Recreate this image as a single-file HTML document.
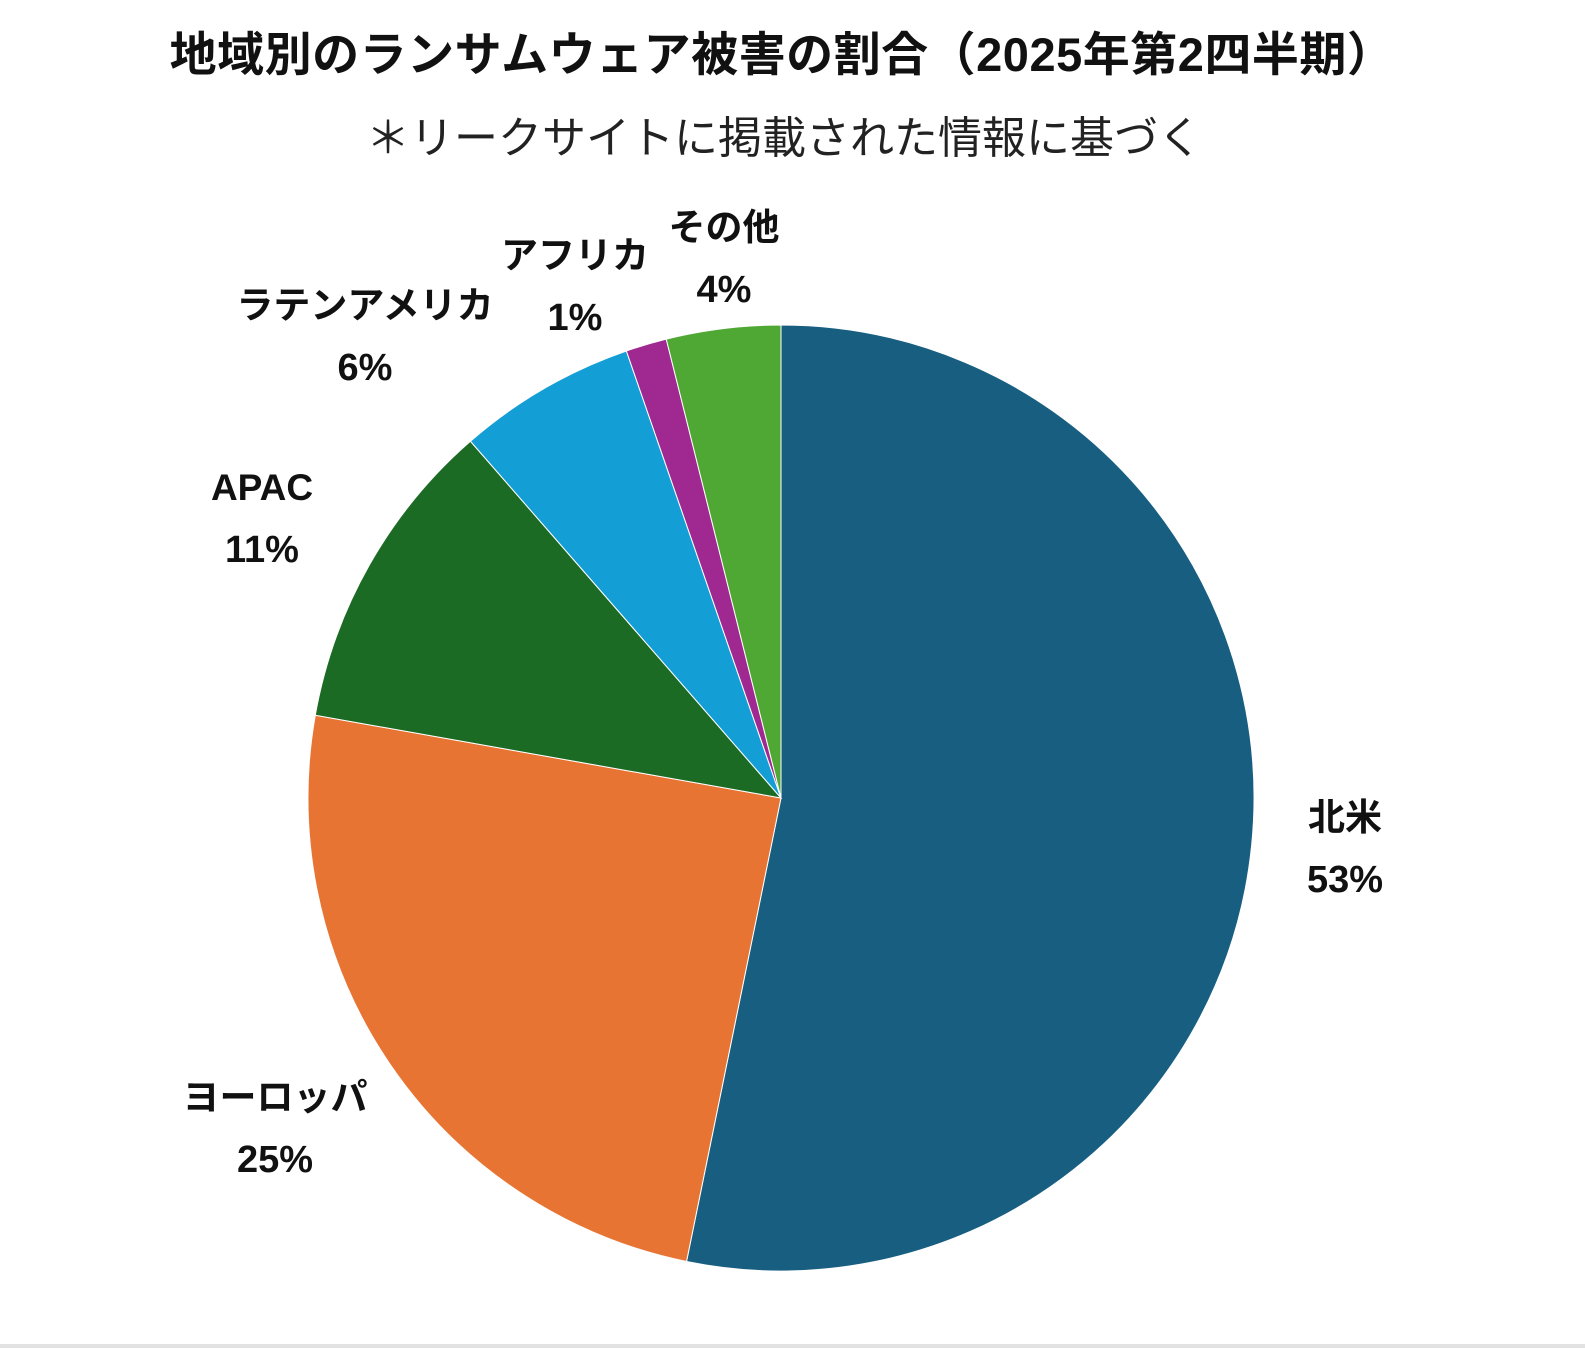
<!DOCTYPE html>
<html><head><meta charset="utf-8"><style>
html,body{margin:0;padding:0;background:#fff;}
#wrap{position:relative;width:1585px;height:1350px;overflow:hidden;background:#fff;}
svg{position:absolute;left:0;top:0;}
text{font-family:"Liberation Sans","Noto Sans CJK JP",sans-serif;}
</style></head><body>
<div id="wrap">
<svg id="chart" width="1585" height="1350">
<text x="782" y="71" text-anchor="middle" font-size="47" font-weight="bold" letter-spacing="0.5" fill="#111">地域別のランサムウェア被害の割合（2025年第2四半期）</text>
<text x="784" y="153" text-anchor="middle" font-size="44" fill="#222">＊リークサイトに掲載された情報に基づく</text>
<g id="slices"></g>
<g id="labels"></g>
<rect x="0" y="1344" width="1585" height="4" fill="#e2e2e2"/>
</svg>
</div>
<script>
const categories = ["北米","ヨーロッパ","APAC","ラテンアメリカ","アフリカ","その他"];
const values = [53.2, 24.6, 10.8, 6.1, 1.4, 3.9];
const valueLabels = ["53%","25%","11%","6%","1%","4%"];
const colors = ["#175e80","#e87434","#1c6b24","#139ed6","#a02991","#4fa833"];
const labelPos = [[1345,830],[275,1110],[262,500],[365,318],[575,268],[724,240]];
const cx=781, cy=798, r=473;
const NS="http://www.w3.org/2000/svg";
const total=values.reduce((a,b)=>a+b,0);
function pt(a){return [cx+r*Math.sin(a), cy-r*Math.cos(a)];}
let acc=0;
const gs=document.getElementById('slices'), gl=document.getElementById('labels');
values.forEach((v,i)=>{
  const a0=acc/total*2*Math.PI; acc+=v; const a1=acc/total*2*Math.PI;
  const p0=pt(a0), p1=pt(a1);
  const large=(a1-a0)>Math.PI?1:0;
  const p=document.createElementNS(NS,'path');
  p.setAttribute('d',`M${cx},${cy} L${p0[0]},${p0[1]} A${r},${r} 0 ${large} 1 ${p1[0]},${p1[1]} Z`);
  p.setAttribute('fill',colors[i]);
  p.setAttribute('stroke','#fff');
  p.setAttribute('stroke-width','1');
  
  
  gs.appendChild(p);
  const t1=document.createElementNS(NS,'text');
  t1.setAttribute('x',labelPos[i][0]); t1.setAttribute('y',labelPos[i][1]);
  t1.setAttribute('text-anchor','middle'); t1.setAttribute('font-size','37');
  t1.setAttribute('font-weight','bold'); t1.setAttribute('fill','#111');
  t1.textContent=categories[i];
  
  
  gl.appendChild(t1);
  const t2=document.createElementNS(NS,'text');
  t2.setAttribute('x',labelPos[i][0]); t2.setAttribute('y',labelPos[i][1]+62);
  t2.setAttribute('text-anchor','middle'); t2.setAttribute('font-size','38');
  t2.setAttribute('font-weight','bold'); t2.setAttribute('fill','#111');
  t2.textContent=valueLabels[i];
  
  
  gl.appendChild(t2);
});
</script>
</body></html>
